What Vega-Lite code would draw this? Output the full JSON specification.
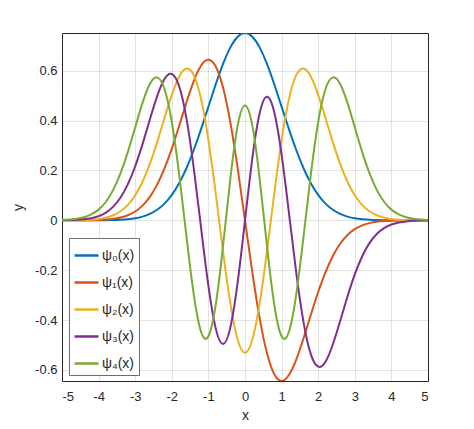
{
  "$schema": "https://vega.github.io/schema/vega-lite/v6.json",
  "description": "Harmonic oscillator wavefunctions psi_0 to psi_4.",
  "width": 366,
  "height": 348,
  "autosize": "none",
  "padding": {"left": 62, "top": 33, "right": 46, "bottom": 48},
  "background": "white",
  "config": {
    "font": "Liberation Sans",
    "view": {"stroke": "#262626", "strokeWidth": 1},
    "axis": {
      "domain": false,
      "ticks": false,
      "gridColor": "#262626",
      "gridOpacity": 0.13,
      "labelFontSize": 13,
      "labelColor": "#262626",
      "titleFontSize": 14,
      "titleFontWeight": "normal",
      "titleColor": "#262626"
    }
  },
  "data": {
    "values": [
      {"x": -5, "s": "ψ₀(x)", "y": 0},
      {"x": -4.8, "s": "ψ₀(x)", "y": 0},
      {"x": -4.6, "s": "ψ₀(x)", "y": 0},
      {"x": -4.4, "s": "ψ₀(x)", "y": 0},
      {"x": -4.2, "s": "ψ₀(x)", "y": 0.0001},
      {"x": -4, "s": "ψ₀(x)", "y": 0.0003},
      {"x": -3.8, "s": "ψ₀(x)", "y": 0.0006},
      {"x": -3.6, "s": "ψ₀(x)", "y": 0.0012},
      {"x": -3.4, "s": "ψ₀(x)", "y": 0.0023},
      {"x": -3.2, "s": "ψ₀(x)", "y": 0.0045},
      {"x": -3, "s": "ψ₀(x)", "y": 0.0083},
      {"x": -2.8, "s": "ψ₀(x)", "y": 0.0149},
      {"x": -2.6, "s": "ψ₀(x)", "y": 0.0256},
      {"x": -2.4, "s": "ψ₀(x)", "y": 0.0422},
      {"x": -2.2, "s": "ψ₀(x)", "y": 0.0668},
      {"x": -2, "s": "ψ₀(x)", "y": 0.1017},
      {"x": -1.8, "s": "ψ₀(x)", "y": 0.1487},
      {"x": -1.6, "s": "ψ₀(x)", "y": 0.2088},
      {"x": -1.4, "s": "ψ₀(x)", "y": 0.2819},
      {"x": -1.2, "s": "ψ₀(x)", "y": 0.3656},
      {"x": -1, "s": "ψ₀(x)", "y": 0.4556},
      {"x": -0.8, "s": "ψ₀(x)", "y": 0.5454},
      {"x": -0.6, "s": "ψ₀(x)", "y": 0.6274},
      {"x": -0.4, "s": "ψ₀(x)", "y": 0.6934},
      {"x": -0.2, "s": "ψ₀(x)", "y": 0.7363},
      {"x": 0, "s": "ψ₀(x)", "y": 0.7511},
      {"x": 0.2, "s": "ψ₀(x)", "y": 0.7363},
      {"x": 0.4, "s": "ψ₀(x)", "y": 0.6934},
      {"x": 0.6, "s": "ψ₀(x)", "y": 0.6274},
      {"x": 0.8, "s": "ψ₀(x)", "y": 0.5454},
      {"x": 1, "s": "ψ₀(x)", "y": 0.4556},
      {"x": 1.2, "s": "ψ₀(x)", "y": 0.3656},
      {"x": 1.4, "s": "ψ₀(x)", "y": 0.2819},
      {"x": 1.6, "s": "ψ₀(x)", "y": 0.2088},
      {"x": 1.8, "s": "ψ₀(x)", "y": 0.1487},
      {"x": 2, "s": "ψ₀(x)", "y": 0.1017},
      {"x": 2.2, "s": "ψ₀(x)", "y": 0.0668},
      {"x": 2.4, "s": "ψ₀(x)", "y": 0.0422},
      {"x": 2.6, "s": "ψ₀(x)", "y": 0.0256},
      {"x": 2.8, "s": "ψ₀(x)", "y": 0.0149},
      {"x": 3, "s": "ψ₀(x)", "y": 0.0083},
      {"x": 3.2, "s": "ψ₀(x)", "y": 0.0045},
      {"x": 3.4, "s": "ψ₀(x)", "y": 0.0023},
      {"x": 3.6, "s": "ψ₀(x)", "y": 0.0012},
      {"x": 3.8, "s": "ψ₀(x)", "y": 0.0006},
      {"x": 4, "s": "ψ₀(x)", "y": 0.0003},
      {"x": 4.2, "s": "ψ₀(x)", "y": 0.0001},
      {"x": 4.4, "s": "ψ₀(x)", "y": 0},
      {"x": 4.6, "s": "ψ₀(x)", "y": 0},
      {"x": 4.8, "s": "ψ₀(x)", "y": 0},
      {"x": 5, "s": "ψ₀(x)", "y": 0},

      {"x": -5, "s": "ψ₁(x)", "y": 0},
      {"x": -4.8, "s": "ψ₁(x)", "y": 0},
      {"x": -4.6, "s": "ψ₁(x)", "y": 0.0001},
      {"x": -4.4, "s": "ψ₁(x)", "y": 0.0003},
      {"x": -4.2, "s": "ψ₁(x)", "y": 0.0007},
      {"x": -4, "s": "ψ₁(x)", "y": 0.0014},
      {"x": -3.8, "s": "ψ₁(x)", "y": 0.003},
      {"x": -3.6, "s": "ψ₁(x)", "y": 0.0059},
      {"x": -3.4, "s": "ψ₁(x)", "y": 0.0112},
      {"x": -3.2, "s": "ψ₁(x)", "y": 0.0203},
      {"x": -3, "s": "ψ₁(x)", "y": 0.0354},
      {"x": -2.8, "s": "ψ₁(x)", "y": 0.059},
      {"x": -2.6, "s": "ψ₁(x)", "y": 0.094},
      {"x": -2.4, "s": "ψ₁(x)", "y": 0.1431},
      {"x": -2.2, "s": "ψ₁(x)", "y": 0.2078},
      {"x": -2, "s": "ψ₁(x)", "y": 0.2875},
      {"x": -1.8, "s": "ψ₁(x)", "y": 0.3784},
      {"x": -1.6, "s": "ψ₁(x)", "y": 0.4726},
      {"x": -1.4, "s": "ψ₁(x)", "y": 0.5582},
      {"x": -1.2, "s": "ψ₁(x)", "y": 0.6205},
      {"x": -1, "s": "ψ₁(x)", "y": 0.6443},
      {"x": -0.8, "s": "ψ₁(x)", "y": 0.6171},
      {"x": -0.6, "s": "ψ₁(x)", "y": 0.5324},
      {"x": -0.4, "s": "ψ₁(x)", "y": 0.3922},
      {"x": -0.2, "s": "ψ₁(x)", "y": 0.2082},
      {"x": 0, "s": "ψ₁(x)", "y": 0},
      {"x": 0.2, "s": "ψ₁(x)", "y": -0.2082},
      {"x": 0.4, "s": "ψ₁(x)", "y": -0.3922},
      {"x": 0.6, "s": "ψ₁(x)", "y": -0.5324},
      {"x": 0.8, "s": "ψ₁(x)", "y": -0.6171},
      {"x": 1, "s": "ψ₁(x)", "y": -0.6443},
      {"x": 1.2, "s": "ψ₁(x)", "y": -0.6205},
      {"x": 1.4, "s": "ψ₁(x)", "y": -0.5582},
      {"x": 1.6, "s": "ψ₁(x)", "y": -0.4726},
      {"x": 1.8, "s": "ψ₁(x)", "y": -0.3784},
      {"x": 2, "s": "ψ₁(x)", "y": -0.2875},
      {"x": 2.2, "s": "ψ₁(x)", "y": -0.2078},
      {"x": 2.4, "s": "ψ₁(x)", "y": -0.1431},
      {"x": 2.6, "s": "ψ₁(x)", "y": -0.094},
      {"x": 2.8, "s": "ψ₁(x)", "y": -0.059},
      {"x": 3, "s": "ψ₁(x)", "y": -0.0354},
      {"x": 3.2, "s": "ψ₁(x)", "y": -0.0203},
      {"x": 3.4, "s": "ψ₁(x)", "y": -0.0112},
      {"x": 3.6, "s": "ψ₁(x)", "y": -0.0059},
      {"x": 3.8, "s": "ψ₁(x)", "y": -0.003},
      {"x": 4, "s": "ψ₁(x)", "y": -0.0014},
      {"x": 4.2, "s": "ψ₁(x)", "y": -0.0007},
      {"x": 4.4, "s": "ψ₁(x)", "y": -0.0003},
      {"x": 4.6, "s": "ψ₁(x)", "y": -0.0001},
      {"x": 4.8, "s": "ψ₁(x)", "y": 0},
      {"x": 5, "s": "ψ₁(x)", "y": 0},

      {"x": -5, "s": "ψ₂(x)", "y": 0.0001},
      {"x": -4.8, "s": "ψ₂(x)", "y": 0.0002},
      {"x": -4.6, "s": "ψ₂(x)", "y": 0.0006},
      {"x": -4.4, "s": "ψ₂(x)", "y": 0.0013},
      {"x": -4.2, "s": "ψ₂(x)", "y": 0.0027},
      {"x": -4, "s": "ψ₂(x)", "y": 0.0055},
      {"x": -3.8, "s": "ψ₂(x)", "y": 0.0108},
      {"x": -3.6, "s": "ψ₂(x)", "y": 0.0203},
      {"x": -3.4, "s": "ψ₂(x)", "y": 0.0363},
      {"x": -3.2, "s": "ψ₂(x)", "y": 0.0618},
      {"x": -3, "s": "ψ₂(x)", "y": 0.1003},
      {"x": -2.8, "s": "ψ₂(x)", "y": 0.1547},
      {"x": -2.6, "s": "ψ₂(x)", "y": 0.2264},
      {"x": -2.4, "s": "ψ₂(x)", "y": 0.3137},
      {"x": -2.2, "s": "ψ₂(x)", "y": 0.4099},
      {"x": -2, "s": "ψ₂(x)", "y": 0.5032},
      {"x": -1.8, "s": "ψ₂(x)", "y": 0.576},
      {"x": -1.6, "s": "ψ₂(x)", "y": 0.6084},
      {"x": -1.4, "s": "ψ₂(x)", "y": 0.5821},
      {"x": -1.2, "s": "ψ₂(x)", "y": 0.486},
      {"x": -1, "s": "ψ₂(x)", "y": 0.3221},
      {"x": -0.8, "s": "ψ₂(x)", "y": 0.108},
      {"x": -0.6, "s": "ψ₂(x)", "y": -0.1242},
      {"x": -0.4, "s": "ψ₂(x)", "y": -0.3334},
      {"x": -0.2, "s": "ψ₂(x)", "y": -0.479},
      {"x": 0, "s": "ψ₂(x)", "y": -0.5311},
      {"x": 0.2, "s": "ψ₂(x)", "y": -0.479},
      {"x": 0.4, "s": "ψ₂(x)", "y": -0.3334},
      {"x": 0.6, "s": "ψ₂(x)", "y": -0.1242},
      {"x": 0.8, "s": "ψ₂(x)", "y": 0.108},
      {"x": 1, "s": "ψ₂(x)", "y": 0.3221},
      {"x": 1.2, "s": "ψ₂(x)", "y": 0.486},
      {"x": 1.4, "s": "ψ₂(x)", "y": 0.5821},
      {"x": 1.6, "s": "ψ₂(x)", "y": 0.6084},
      {"x": 1.8, "s": "ψ₂(x)", "y": 0.576},
      {"x": 2, "s": "ψ₂(x)", "y": 0.5032},
      {"x": 2.2, "s": "ψ₂(x)", "y": 0.4099},
      {"x": 2.4, "s": "ψ₂(x)", "y": 0.3137},
      {"x": 2.6, "s": "ψ₂(x)", "y": 0.2264},
      {"x": 2.8, "s": "ψ₂(x)", "y": 0.1547},
      {"x": 3, "s": "ψ₂(x)", "y": 0.1003},
      {"x": 3.2, "s": "ψ₂(x)", "y": 0.0618},
      {"x": 3.4, "s": "ψ₂(x)", "y": 0.0363},
      {"x": 3.6, "s": "ψ₂(x)", "y": 0.0203},
      {"x": 3.8, "s": "ψ₂(x)", "y": 0.0108},
      {"x": 4, "s": "ψ₂(x)", "y": 0.0055},
      {"x": 4.2, "s": "ψ₂(x)", "y": 0.0027},
      {"x": 4.4, "s": "ψ₂(x)", "y": 0.0013},
      {"x": 4.6, "s": "ψ₂(x)", "y": 0.0006},
      {"x": 4.8, "s": "ψ₂(x)", "y": 0.0002},
      {"x": 5, "s": "ψ₂(x)", "y": 0.0001},

      {"x": -5, "s": "ψ₃(x)", "y": 0.0004},
      {"x": -4.8, "s": "ψ₃(x)", "y": 0.0009},
      {"x": -4.6, "s": "ψ₃(x)", "y": 0.002},
      {"x": -4.4, "s": "ψ₃(x)", "y": 0.0043},
      {"x": -4.2, "s": "ψ₃(x)", "y": 0.0087},
      {"x": -4, "s": "ψ₃(x)", "y": 0.0169},
      {"x": -3.8, "s": "ψ₃(x)", "y": 0.0312},
      {"x": -3.6, "s": "ψ₃(x)", "y": 0.0549},
      {"x": -3.4, "s": "ψ₃(x)", "y": 0.0916},
      {"x": -3.2, "s": "ψ₃(x)", "y": 0.145},
      {"x": -3, "s": "ψ₃(x)", "y": 0.2168},
      {"x": -2.8, "s": "ψ₃(x)", "y": 0.3055},
      {"x": -2.6, "s": "ψ₃(x)", "y": 0.4039},
      {"x": -2.4, "s": "ψ₃(x)", "y": 0.4978},
      {"x": -2.2, "s": "ψ₃(x)", "y": 0.5667},
      {"x": -2, "s": "ψ₃(x)", "y": 0.5869},
      {"x": -1.8, "s": "ψ₃(x)", "y": 0.5376},
      {"x": -1.6, "s": "ψ₃(x)", "y": 0.409},
      {"x": -1.4, "s": "ψ₃(x)", "y": 0.2096},
      {"x": -1.2, "s": "ψ₃(x)", "y": -0.0304},
      {"x": -1, "s": "ψ₃(x)", "y": -0.263},
      {"x": -0.8, "s": "ψ₃(x)", "y": -0.4333},
      {"x": -0.6, "s": "ψ₃(x)", "y": -0.4955},
      {"x": -0.4, "s": "ψ₃(x)", "y": -0.4292},
      {"x": -0.2, "s": "ψ₃(x)", "y": -0.2483},
      {"x": 0, "s": "ψ₃(x)", "y": 0},
      {"x": 0.2, "s": "ψ₃(x)", "y": 0.2483},
      {"x": 0.4, "s": "ψ₃(x)", "y": 0.4292},
      {"x": 0.6, "s": "ψ₃(x)", "y": 0.4955},
      {"x": 0.8, "s": "ψ₃(x)", "y": 0.4333},
      {"x": 1, "s": "ψ₃(x)", "y": 0.263},
      {"x": 1.2, "s": "ψ₃(x)", "y": 0.0304},
      {"x": 1.4, "s": "ψ₃(x)", "y": -0.2096},
      {"x": 1.6, "s": "ψ₃(x)", "y": -0.409},
      {"x": 1.8, "s": "ψ₃(x)", "y": -0.5376},
      {"x": 2, "s": "ψ₃(x)", "y": -0.5869},
      {"x": 2.2, "s": "ψ₃(x)", "y": -0.5667},
      {"x": 2.4, "s": "ψ₃(x)", "y": -0.4978},
      {"x": 2.6, "s": "ψ₃(x)", "y": -0.4039},
      {"x": 2.8, "s": "ψ₃(x)", "y": -0.3055},
      {"x": 3, "s": "ψ₃(x)", "y": -0.2168},
      {"x": 3.2, "s": "ψ₃(x)", "y": -0.145},
      {"x": 3.4, "s": "ψ₃(x)", "y": -0.0916},
      {"x": 3.6, "s": "ψ₃(x)", "y": -0.0549},
      {"x": 3.8, "s": "ψ₃(x)", "y": -0.0312},
      {"x": 4, "s": "ψ₃(x)", "y": -0.0169},
      {"x": 4.2, "s": "ψ₃(x)", "y": -0.0087},
      {"x": 4.4, "s": "ψ₃(x)", "y": -0.0043},
      {"x": 4.6, "s": "ψ₃(x)", "y": -0.002},
      {"x": 4.8, "s": "ψ₃(x)", "y": -0.0009},
      {"x": 5, "s": "ψ₃(x)", "y": -0.0004},

      {"x": -5, "s": "ψ₄(x)", "y": 0.0013},
      {"x": -4.8, "s": "ψ₄(x)", "y": 0.0028},
      {"x": -4.6, "s": "ψ₄(x)", "y": 0.006},
      {"x": -4.4, "s": "ψ₄(x)", "y": 0.0122},
      {"x": -4.2, "s": "ψ₄(x)", "y": 0.0235},
      {"x": -4, "s": "ψ₄(x)", "y": 0.0429},
      {"x": -3.8, "s": "ψ₄(x)", "y": 0.0745},
      {"x": -3.6, "s": "ψ₄(x)", "y": 0.1222},
      {"x": -3.4, "s": "ψ₄(x)", "y": 0.1889},
      {"x": -3.2, "s": "ψ₄(x)", "y": 0.2745},
      {"x": -3, "s": "ψ₄(x)", "y": 0.373},
      {"x": -2.8, "s": "ψ₄(x)", "y": 0.4709},
      {"x": -2.6, "s": "ψ₄(x)", "y": 0.5464},
      {"x": -2.4, "s": "ψ₄(x)", "y": 0.5731},
      {"x": -2.2, "s": "ψ₄(x)", "y": 0.5266},
      {"x": -2, "s": "ψ₄(x)", "y": 0.3943},
      {"x": -1.8, "s": "ψ₄(x)", "y": 0.1854},
      {"x": -1.6, "s": "ψ₄(x)", "y": -0.0642},
      {"x": -1.4, "s": "ψ₄(x)", "y": -0.2966},
      {"x": -1.2, "s": "ψ₄(x)", "y": -0.4467},
      {"x": -1, "s": "ψ₄(x)", "y": -0.465},
      {"x": -0.8, "s": "ψ₄(x)", "y": -0.3386},
      {"x": -0.6, "s": "ψ₄(x)", "y": -0.1027},
      {"x": -0.4, "s": "ψ₄(x)", "y": 0.1674},
      {"x": -0.2, "s": "ψ₄(x)", "y": 0.3797},
      {"x": 0, "s": "ψ₄(x)", "y": 0.46},
      {"x": 0.2, "s": "ψ₄(x)", "y": 0.3797},
      {"x": 0.4, "s": "ψ₄(x)", "y": 0.1674},
      {"x": 0.6, "s": "ψ₄(x)", "y": -0.1027},
      {"x": 0.8, "s": "ψ₄(x)", "y": -0.3386},
      {"x": 1, "s": "ψ₄(x)", "y": -0.465},
      {"x": 1.2, "s": "ψ₄(x)", "y": -0.4467},
      {"x": 1.4, "s": "ψ₄(x)", "y": -0.2966},
      {"x": 1.6, "s": "ψ₄(x)", "y": -0.0642},
      {"x": 1.8, "s": "ψ₄(x)", "y": 0.1854},
      {"x": 2, "s": "ψ₄(x)", "y": 0.3943},
      {"x": 2.2, "s": "ψ₄(x)", "y": 0.5266},
      {"x": 2.4, "s": "ψ₄(x)", "y": 0.5731},
      {"x": 2.6, "s": "ψ₄(x)", "y": 0.5464},
      {"x": 2.8, "s": "ψ₄(x)", "y": 0.4709},
      {"x": 3, "s": "ψ₄(x)", "y": 0.373},
      {"x": 3.2, "s": "ψ₄(x)", "y": 0.2745},
      {"x": 3.4, "s": "ψ₄(x)", "y": 0.1889},
      {"x": 3.6, "s": "ψ₄(x)", "y": 0.1222},
      {"x": 3.8, "s": "ψ₄(x)", "y": 0.0745},
      {"x": 4, "s": "ψ₄(x)", "y": 0.0429},
      {"x": 4.2, "s": "ψ₄(x)", "y": 0.0235},
      {"x": 4.4, "s": "ψ₄(x)", "y": 0.0122},
      {"x": 4.6, "s": "ψ₄(x)", "y": 0.006},
      {"x": 4.8, "s": "ψ₄(x)", "y": 0.0028},
      {"x": 5, "s": "ψ₄(x)", "y": 0.0013}
    ]
  },
  "mark": {"type": "line", "strokeWidth": 2, "interpolate": "natural", "clip": true},
  "encoding": {
    "x": {
      "field": "x",
      "type": "quantitative",
      "scale": {"domain": [-5, 5], "nice": false},
      "axis": {
        "title": "x",
        "values": [-5, -4, -3, -2, -1, 0, 1, 2, 3, 4, 5],
        "labelExpr": "replace(format(datum.value, '~g'), '\u2212', '-')",
        "labelPadding": 9,
        "titlePadding": 5
      }
    },
    "y": {
      "field": "y",
      "type": "quantitative",
      "scale": {"domain": [-0.6443, 0.7511], "nice": false, "zero": false},
      "axis": {
        "title": "y",
        "values": [-0.6, -0.4, -0.2, 0, 0.2, 0.4, 0.6],
        "labelExpr": "replace(format(datum.value, '~g'), '\u2212', '-')",
        "labelPadding": 5,
        "titlePadding": 9
      }
    },
    "color": {
      "field": "s",
      "type": "nominal",
      "scale": {
        "domain": ["ψ₀(x)", "ψ₁(x)", "ψ₂(x)", "ψ₃(x)", "ψ₄(x)"],
        "range": ["#0072BD", "#D95319", "#EDB120", "#7E2F8E", "#77AC30"]
      },
      "legend": {
        "title": null,
        "orient": "none",
        "legendX": 7,
        "legendY": 205,
        "fillColor": "white",
        "strokeColor": "#6e6e6e",
        "padding": 4,
        "symbolType": "stroke",
        "symbolSize": 576,
        "symbolStrokeWidth": 2.5,
        "labelFontSize": 14,
        "labelOffset": 2,
        "labelColor": "#262626",
        "rowPadding": 6
      }
    }
  }
}
